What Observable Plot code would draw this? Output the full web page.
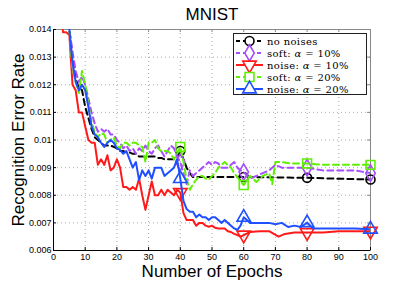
<!DOCTYPE html>
<html><head><meta charset="utf-8">
<script src="https://cdn.jsdelivr.net/npm/d3@7"></script>
<script src="https://cdn.jsdelivr.net/npm/@observablehq/plot@0.6"></script>
<style>
body{margin:0;background:#fff;}
#wrap{position:relative;width:409px;height:283px;}
#legend{position:absolute;left:233px;top:33px;}
</style></head><body><div id="wrap"></div>
<script>
// ---- axes / labels ----
const title = "MNIST";
const xLabel = "Number of Epochs";
const yLabel = "Recognition Error Rate";
const xDomain = [0, 100];
const yDomain = [0.006, 0.014];
const xTicks = [0,10,20,30,40,50,60,70,80,90,100];
const xTickLabels = ["0","10","20","30","40","50","60","70","80","90","100"];
const yTicks = [0.006,0.007,0.008,0.009,0.01,0.011,0.012,0.013,0.014];
const yTickLabels = ["0.006","0.007","0.008","0.009","0.01","0.011","0.012","0.013","0.014"];
const markerEpochs = [40,60,80,100];

// ---- series ----
const seriesNames = ["no noises","soft: α = 10%","noise: α = 10%","soft: α = 20%","noise: α = 20%"];

const noNoisesX = [4,5,6,7,8,9,10,11,12,13,14,15,16,17,18,19,20,21,22,23,24,25,26,27,28,29,30,31,32,33,34,35,36,37,38,39,40,41,42,43,44,60,80,100];
const noNoisesY = [0.0150,0.0140,0.0130,0.0122,0.0119,0.0118,0.0112,0.0108,0.0104,0.0101,0.0100,0.0099,0.0098,0.0098,0.0098,0.00975,0.0097,0.0096,0.0096,0.00955,0.00955,0.0095,0.0095,0.0094,0.0094,0.0094,0.0094,0.0094,0.0094,0.00935,0.00935,0.0093,0.0093,0.0093,0.0093,0.0094,0.0096,0.0093,0.0090,0.0088,0.00866,0.00866,0.00863,0.00857];

const soft10X = [4,5,6,7,8,9,10,11,12,13,14,15,16,17,18,19,20,21,22,23,24,25,26,27,28,29,30,31,32,33,34,35,36,37,38,39,40,41,42,43,44,45,46,47,48,49,50,51,52,53,54,55,56,57,58,59,60,62,64,66,68,70,72,75,80,85,90,95,100];
const soft10Y = [0.0150,0.0140,0.0132,0.0125,0.0121,0.0123,0.0120,0.0115,0.0110,0.0106,0.0103,0.0104,0.0103,0.0104,0.0102,0.0102,0.0100,0.0099,0.0097,0.0098,0.0096,0.0097,0.0095,0.0097,0.0096,0.0098,0.0096,0.0095,0.0097,0.0098,0.0096,0.0094,0.0096,0.0098,0.0097,0.0094,0.0092,0.0088,0.0084,0.0089,0.0087,0.0088,0.0089,0.0090,0.0091,0.0092,0.0091,0.0092,0.00915,0.0090,0.0090,0.0090,0.0091,0.0092,0.0090,0.0089,0.00884,0.0086,0.0087,0.0088,0.0089,0.0091,0.0090,0.0090,0.0090,0.0089,0.0089,0.0089,0.0088];

const noise10X = [2,3,4,5,6,7,8,9,10,11,12,13,14,15,16,17,18,19,20,21,22,23,24,25,26,27,28,29,30,31,32,33,34,35,36,37,38,39,40,41,42,43,44,45,46,47,48,49,50,51,52,53,54,55,56,57,58,59,60,62,65,68,71,73,76,80,85,90,95,100];
const noise10Y = [0.0150,0.0139,0.0139,0.0138,0.0120,0.0118,0.0110,0.0110,0.0105,0.0100,0.0099,0.0099,0.0091,0.0093,0.0091,0.00945,0.0089,0.0090,0.0093,0.0090,0.0083,0.0083,0.0082,0.0083,0.0082,0.0086,0.0080,0.00747,0.0080,0.0085,0.0080,0.0080,0.0082,0.0080,0.0082,0.0081,0.0080,0.0082,0.0081,0.00735,0.0071,0.0071,0.0071,0.0069,0.0070,0.0070,0.0069,0.00686,0.0069,0.00682,0.0068,0.0068,0.0068,0.0067,0.00667,0.0066,0.00656,0.0065,0.00656,0.00667,0.0067,0.0067,0.0065,0.0066,0.00665,0.00665,0.00665,0.0067,0.0067,0.0067];

const soft20X = [4,5,6,7,8,9,10,11,12,13,14,15,16,17,18,19,20,21,22,23,24,25,26,27,28,29,30,31,32,33,34,35,36,37,38,39,40,41,42,43,44,45,46,47,48,49,50,51,52,53,54,55,56,57,58,59,60,62,64,66,68,69,70,72,75,80,85,90,95,100];
const soft20Y = [0.0150,0.0140,0.0126,0.0121,0.0117,0.0125,0.0120,0.0113,0.01065,0.0103,0.0101,0.01025,0.0102,0.0099,0.0100,0.0101,0.0098,0.0097,0.0099,0.0099,0.0098,0.0099,0.0099,0.0098,0.00975,0.0092,0.0099,0.0099,0.0100,0.0097,0.0096,0.0096,0.0096,0.0095,0.0093,0.0095,0.00975,0.0092,0.00856,0.0082,0.0084,0.00856,0.0087,0.0087,0.0086,0.00856,0.0087,0.0088,0.0090,0.0091,0.0092,0.0091,0.0090,0.0088,0.00866,0.0085,0.00837,0.0087,0.00848,0.0087,0.0088,0.0084,0.0092,0.0092,0.00915,0.00915,0.0091,0.0091,0.0091,0.0091];

const noise20X = [4,5,6,7,8,9,10,11,12,13,14,15,16,17,18,19,20,21,22,23,24,25,26,27,28,29,30,31,32,33,34,35,36,37,38,39,40,41,42,43,44,45,46,47,48,49,50,51,52,53,54,55,56,57,58,59,60,62,65,68,70,72,74,76,78,80,82,85,90,95,100];
const noise20Y = [0.0150,0.0140,0.0128,0.0121,0.0118,0.0120,0.0118,0.0112,0.0105,0.0102,0.0101,0.0099,0.00975,0.0099,0.0100,0.0099,0.0097,0.00964,0.0095,0.0096,0.0093,0.0090,0.0092,0.00855,0.0089,0.0087,0.0089,0.0086,0.0090,0.0090,0.0090,0.0087,0.0088,0.0089,0.0090,0.0093,0.0086,0.0078,0.0075,0.0074,0.0074,0.0072,0.0073,0.0072,0.0072,0.0071,0.0072,0.0072,0.0071,0.0070,0.0071,0.0070,0.0069,0.0068,0.00675,0.0069,0.0072,0.0070,0.0070,0.0070,0.00695,0.0070,0.00685,0.0069,0.00685,0.0070,0.0068,0.0068,0.0068,0.0068,0.00677];

const colors = ["#000000","#a64dff","#ff1a1a","#5ef000","#1f50ff"];
const dashes = ["6,4","6,4",null,"6,4",null];
const symbols = ["circle","diamond","triangle","square","triangle"];
const rotations = [0,0,180,0,0];

const seriesX = [noNoisesX, soft10X, noise10X, soft20X, noise20X];
const seriesY = [noNoisesY, soft10Y, noise10Y, soft20Y, noise20Y];

const rows = seriesX.map((xs, s) => xs.map((x, i) => ({x, y: seriesY[s][i]})));
const markerRows = rows.map(r => r.filter(d => markerEpochs.includes(d.x)));

const lineMarks = [];
rows.forEach((r, s) => {
  lineMarks.push(Plot.line(r, {x: "x", y: "y", stroke: colors[s], strokeWidth: 2, strokeDasharray: dashes[s] || undefined, clip: true}));
  lineMarks.push(Plot.dot(markerRows[s], {x: "x", y: "y", symbol: symbols[s], r: s === 0 ? 4.5 : 5, stroke: colors[s], fill: "none", strokeWidth: 1.6, rotate: rotations[s]}));
});

const plotH = 283 - 29 - 33, plotW = 409 - 53 - 39;
const chart = Plot.plot({
  width: 409, height: 283,
  marginLeft: 53, marginRight: 39, marginTop: 29, marginBottom: 33,
  style: {fontFamily: "'Liberation Sans', Arial, sans-serif", background: "#fff", color: "#000"},
  x: {domain: xDomain},
  y: {domain: yDomain},
  marks: [
    Plot.gridX(xTicks, {stroke: "#aaa", strokeOpacity: 1, strokeDasharray: "1,3"}),
    Plot.gridY(yTicks, {stroke: "#aaa", strokeOpacity: 1, strokeDasharray: "1,3"}),
    Plot.frame({stroke: "#888"}),
    Plot.tickX(xTicks, {x: d => d, insetTop: plotH - 3, stroke: "#000"}),
    Plot.tickX(xTicks, {x: d => d, insetBottom: plotH - 3, stroke: "#888"}),
    Plot.tickY(yTicks, {y: d => d, insetRight: plotW - 3, stroke: "#000"}),
    Plot.tickY(yTicks, {y: d => d, insetLeft: plotW - 3, stroke: "#888"}),
    Plot.ruleX([xDomain[0]], {stroke: "#000"}),
    Plot.ruleY([yDomain[0]], {stroke: "#000"}),
    Plot.axisX(xTicks, {tickSize: 0, tickPadding: 3, fontSize: 9, label: null, tickFormat: d => xTickLabels[xTicks.indexOf(d)]}),
    Plot.axisY(yTicks, {tickSize: 0, tickPadding: 2, fontSize: 9, label: null, tickFormat: d => yTickLabels[yTicks.indexOf(d)]}),
    ...lineMarks,
    Plot.text([title], {frameAnchor: "top", dy: -15, fontSize: 17, textAnchor: "middle", lineAnchor: "middle"}),
    Plot.text([xLabel], {frameAnchor: "bottom", dy: 21, fontSize: 17, textAnchor: "middle", lineAnchor: "middle"}),
    Plot.text([yLabel], {frameAnchor: "left", dx: -35, rotate: -90, fontSize: 17, textAnchor: "middle", lineAnchor: "middle"})
  ]
});
const wrap = document.getElementById("wrap");
wrap.appendChild(chart);

// ---- legend ----
const lg = d3.select(wrap).append("div").attr("id", "legend")
  .append("svg").attr("width", 135).attr("height", 63);
lg.append("rect").attr("x", 0.5).attr("y", 0.5).attr("width", 133).attr("height", 61)
  .attr("fill", "#fff").attr("stroke", "#222");
const symMap = {circle: d3.symbolCircle, diamond: d3.symbolDiamond, triangle: d3.symbolTriangle, square: d3.symbolSquare};
seriesNames.forEach((name, s) => {
  const cy = 8 + s * 12;
  const g = lg.append("g");
  g.append("line").attr("x1", 3).attr("x2", 30).attr("y1", cy).attr("y2", cy)
    .attr("stroke", colors[s]).attr("stroke-width", 2).attr("stroke-dasharray", dashes[s] ? "4,3" : null);
  const rr = s === 0 ? 4.5 : 5;
  g.append("path").attr("d", d3.symbol(symMap[symbols[s]], Math.PI * rr * rr)())
    .attr("transform", `translate(16.5,${cy}) rotate(${rotations[s]})`)
    .attr("fill", "#fff").attr("stroke", colors[s]).attr("stroke-width", 1.6);
  const t = g.append("text").attr("x", 34).attr("y", cy + 3.5)
    .attr("font-family", "'DejaVu Serif', 'Liberation Serif', serif").attr("font-size", 10)
    .attr("letter-spacing", 0.35);
  const parts = name.split("α");
  t.append("tspan").text(parts[0]);
  if (parts.length > 1) {
    t.append("tspan").attr("font-style", "italic").text("α");
    t.append("tspan").text(parts[1]);
  }
});
</script>
</body></html>
